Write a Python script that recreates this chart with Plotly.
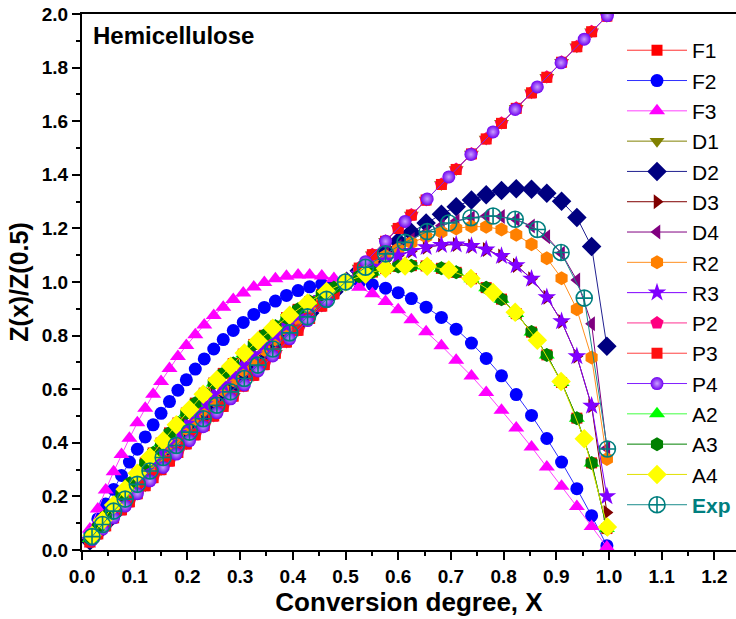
import plotly.graph_objects as go

# Conversion grid used by the model curves
X_FINE = [0.015, 0.03, 0.045, 0.06, 0.075, 0.09, 0.105, 0.12, 0.135, 0.15,
          0.166, 0.182, 0.198, 0.215, 0.232, 0.25, 0.268, 0.287, 0.306, 0.326,
          0.346, 0.367, 0.388, 0.41, 0.432, 0.455, 0.478, 0.502, 0.526, 0.551,
          0.576, 0.6, 0.625, 0.653, 0.682, 0.71, 0.739, 0.767, 0.796, 0.824,
          0.853, 0.882, 0.91, 0.939, 0.967, 0.996]

# Conversion grid of the experimental points
X_EXP = [0.019, 0.039, 0.06, 0.082, 0.105, 0.129, 0.154, 0.179, 0.204, 0.23,
         0.256, 0.282, 0.308, 0.334, 0.362, 0.394, 0.428, 0.464, 0.5, 0.538,
         0.576, 0.613, 0.655, 0.696, 0.738, 0.78, 0.822, 0.864, 0.909, 0.953, 0.997]

# Z(x)/Z(0.5) master curves
F1 = [0.043, 0.085, 0.127, 0.168, 0.208, 0.248, 0.286, 0.325, 0.362, 0.399,
      0.437, 0.474, 0.511, 0.548, 0.585, 0.623, 0.659, 0.696, 0.731, 0.767,
      0.801, 0.835, 0.867, 0.898, 0.927, 0.954, 0.979, 1.002, 1.021, 1.037,
      1.050, 1.058, 1.061, 1.060, 1.051, 1.036, 1.012, 0.979, 0.936, 0.882,
      0.813, 0.728, 0.625, 0.492, 0.325, 0.08]
F2 = [0.059, 0.116, 0.172, 0.226, 0.278, 0.328, 0.376, 0.422, 0.467, 0.51,
      0.554, 0.596, 0.635, 0.675, 0.713, 0.75, 0.785, 0.819, 0.849, 0.879,
      0.905, 0.929, 0.95, 0.968, 0.982, 0.992, 0.998, 1.0, 0.997, 0.99,
      0.977, 0.96, 0.938, 0.906, 0.868, 0.824, 0.772, 0.715, 0.65, 0.58,
      0.502, 0.416, 0.328, 0.229, 0.128, 0.016]
F3 = [0.078, 0.153, 0.224, 0.292, 0.356, 0.417, 0.475, 0.529, 0.581, 0.629,
      0.677, 0.722, 0.763, 0.803, 0.84, 0.875, 0.906, 0.935, 0.959, 0.981,
      0.998, 1.012, 1.021, 1.026, 1.026, 1.022, 1.013, 0.999, 0.98, 0.956,
      0.927, 0.896, 0.859, 0.814, 0.762, 0.708, 0.649, 0.588, 0.521, 0.455,
      0.384, 0.31, 0.238, 0.162, 0.088, 0.011]
LINEAR = [0.03, 0.06, 0.09, 0.12, 0.15, 0.18, 0.21, 0.24, 0.27, 0.3,
          0.332, 0.364, 0.396, 0.43, 0.464, 0.5, 0.536, 0.574, 0.612, 0.652,
          0.692, 0.734, 0.776, 0.82, 0.864, 0.91, 0.956, 1.004, 1.052, 1.102,
          1.152, 1.2, 1.25, 1.306, 1.364, 1.42, 1.478, 1.534, 1.592, 1.648,
          1.706, 1.764, 1.82, 1.878, 1.934, 1.992]
D2 = [0.034, 0.067, 0.101, 0.134, 0.167, 0.2, 0.233, 0.265, 0.298, 0.33,
      0.364, 0.397, 0.431, 0.466, 0.501, 0.538, 0.574, 0.612, 0.649, 0.688,
      0.726, 0.766, 0.805, 0.845, 0.884, 0.924, 0.964, 1.003, 1.042, 1.08,
      1.117, 1.151, 1.185, 1.22, 1.253, 1.281, 1.306, 1.326, 1.341, 1.348,
      1.346, 1.331, 1.301, 1.241, 1.132, 0.76]
D3 = [0.038, 0.076, 0.114, 0.151, 0.187, 0.224, 0.259, 0.295, 0.33, 0.364,
      0.4, 0.436, 0.471, 0.508, 0.544, 0.581, 0.617, 0.655, 0.691, 0.729,
      0.765, 0.802, 0.837, 0.873, 0.907, 0.94, 0.972, 1.002, 1.031, 1.057,
      1.08, 1.099, 1.116, 1.13, 1.138, 1.14, 1.134, 1.121, 1.097, 1.062,
      1.012, 0.943, 0.853, 0.723, 0.538, 0.14]
R3 = [0.038, 0.076, 0.114, 0.151, 0.187, 0.224, 0.259, 0.295, 0.33, 0.364,
      0.4, 0.436, 0.471, 0.508, 0.544, 0.581, 0.617, 0.655, 0.691, 0.729,
      0.765, 0.802, 0.837, 0.873, 0.907, 0.94, 0.972, 1.002, 1.031, 1.057,
      1.08, 1.099, 1.116, 1.13, 1.138, 1.14, 1.134, 1.121, 1.097, 1.062,
      1.012, 0.943, 0.853, 0.723, 0.538, 0.2]
D4 = [0.035, 0.07, 0.105, 0.14, 0.174, 0.208, 0.242, 0.275, 0.308, 0.341,
      0.376, 0.41, 0.444, 0.48, 0.516, 0.552, 0.589, 0.627, 0.664, 0.702,
      0.74, 0.779, 0.816, 0.855, 0.892, 0.93, 0.967, 1.003, 1.038, 1.072,
      1.104, 1.132, 1.159, 1.186, 1.21, 1.228, 1.24, 1.246, 1.244, 1.233,
      1.209, 1.169, 1.107, 1.007, 0.844, 0.38]
R2 = [0.036, 0.072, 0.107, 0.143, 0.178, 0.212, 0.246, 0.28, 0.314, 0.347,
      0.383, 0.417, 0.452, 0.488, 0.523, 0.56, 0.597, 0.634, 0.671, 0.71,
      0.747, 0.785, 0.822, 0.86, 0.896, 0.933, 0.968, 1.003, 1.036, 1.067,
      1.097, 1.122, 1.146, 1.169, 1.187, 1.2, 1.207, 1.206, 1.196, 1.176,
      1.141, 1.089, 1.014, 0.898, 0.718, 0.34]

# Curves sampled on the experimental grid
P4 = [0.038, 0.078, 0.12, 0.164, 0.21, 0.258, 0.308, 0.358, 0.408, 0.46,
      0.512, 0.564, 0.616, 0.668, 0.724, 0.788, 0.856, 0.928, 1.0, 1.076,
      1.152, 1.226, 1.31, 1.392, 1.476, 1.56, 1.644, 1.728, 1.818, 1.906, 1.994]
A4 = [0.054, 0.11, 0.168, 0.227, 0.286, 0.347, 0.408, 0.467, 0.524, 0.581,
      0.635, 0.686, 0.735, 0.781, 0.827, 0.876, 0.922, 0.965, 1.0, 1.029,
      1.05, 1.06, 1.059, 1.045, 1.013, 0.961, 0.887, 0.783, 0.629, 0.415, 0.086]
EXP = [0.05, 0.095, 0.145, 0.19, 0.245, 0.295, 0.345, 0.39, 0.44, 0.49,
       0.54, 0.59, 0.64, 0.69, 0.75, 0.81, 0.87, 0.935, 1.0, 1.055,
       1.105, 1.148, 1.188, 1.22, 1.24, 1.246, 1.234, 1.196, 1.11, 0.94, 0.377]

FONT = "Liberation Sans, Arial, sans-serif"

# name, x, y, marker symbol, marker colour, line colour, marker size
SERIES = [
    ("F1", X_FINE, F1, "square", "#FF0000", "#FF3030", 11),
    ("F2", X_FINE, F2, "circle", "#0000FF", "#3030FF", 13),
    ("F3", X_FINE, F3, "triangle-up", "#FF00FF", "#FF40FF", 14),
    ("D1", X_FINE, LINEAR, "triangle-down", "#808000", "#808000", 13),
    ("D2", X_FINE, D2, "diamond", "#000080", "#202090", 15),
    ("D3", X_FINE, D3, "triangle-right", "#800000", "#800000", 13),
    ("D4", X_FINE, D4, "triangle-left", "#800080", "#800080", 13),
    ("R2", X_FINE, R2, "hexagon", "#FF8000", "#FF9020", 14),
    ("R3", X_FINE, R3, "star", "#8000FF", "#8000FF", 14),
    ("P2", X_FINE, LINEAR, "pentagon", "#FF0080", "#FF3090", 14),
    ("P3", X_FINE, LINEAR, "square", "#FF1010", "#FF4040", 11),
    ("P4", X_EXP, P4, "circle", "#7000F0", "#8020FF", 13),
    ("A2", X_FINE, F1, "triangle-up", "#00FF00", "#40FF40", 14),
    ("A3", X_FINE, F1, "hexagon", "#008000", "#008000", 14),
    ("A4", X_EXP, A4, "diamond", "#FFFF00", "#E0E000", 15),
]

fig = go.Figure()
for name, xs, ys, sym, mcol, lcol, size in SERIES:
    marker = dict(symbol=sym, size=size, color=mcol, line=dict(width=0))
    if name == "P4":
        marker["gradient"] = dict(type="radial", color="#C8A0FF")
    fig.add_trace(go.Scatter(
        x=xs, y=ys, name=name, mode="lines+markers",
        line=dict(color=lcol, width=1),
        marker=marker, hoverinfo="skip",
    ))

fig.add_trace(go.Scatter(
    x=X_EXP, y=EXP, mode="lines+markers",
    name='<b><span style="color:#007F7F">Exp</span></b>',
    line=dict(color="#1A8C8C", width=1),
    marker=dict(symbol="circle-cross-open", size=16, color="#007F7F",
                line=dict(width=1.6, color="#007F7F")),
    hoverinfo="skip",
))

fig.add_annotation(
    x=0.017, y=1.918, xref="x", yref="y", text="<b>Hemicellulose</b>",
    showarrow=False, xanchor="left", yanchor="middle",
    font=dict(family=FONT, size=24, color="black"),
)

axis_common = dict(
    showgrid=False, zeroline=False, showline=True, linewidth=2, linecolor="black",
    ticks="outside", ticklen=8, tickwidth=2, tickcolor="black",
    tickformat=".1f",
    tickfont=dict(family=FONT, size=19, color="black", weight="bold"),
)

fig.update_xaxes(
    range=[0, 1.241], dtick=0.1, tick0=0, mirror=True,
    minor=dict(dtick=0.05, ticks="outside", ticklen=4, tickwidth=2, tickcolor="black"),
    title=dict(text="<b>Conversion degree, X</b>", standoff=4,
               font=dict(family=FONT, size=26, color="black")),
    **axis_common,
)
fig.update_yaxes(
    range=[0, 2.0], dtick=0.2, tick0=0,
    minor=dict(dtick=0.1, ticks="outside", ticklen=4, tickwidth=2, tickcolor="black"),
    title=dict(text="<b>Z(x)/Z(0.5)</b>", standoff=6,
               font=dict(family=FONT, size=25, color="black")),
    **axis_common,
)

fig.update_layout(
    width=736, height=619,
    margin=dict(l=82, r=0, t=14, b=69),
    plot_bgcolor="white", paper_bgcolor="white",
    font=dict(family=FONT, color="black"),
    showlegend=True,
    legend=dict(
        x=0.826, y=0.97, xanchor="left", yanchor="top",
        bgcolor="rgba(0,0,0,0)", borderwidth=0,
        font=dict(family=FONT, size=21, color="black"),
        itemwidth=60, tracegroupgap=0,
    ),
)

fig.write_html("out.html")
